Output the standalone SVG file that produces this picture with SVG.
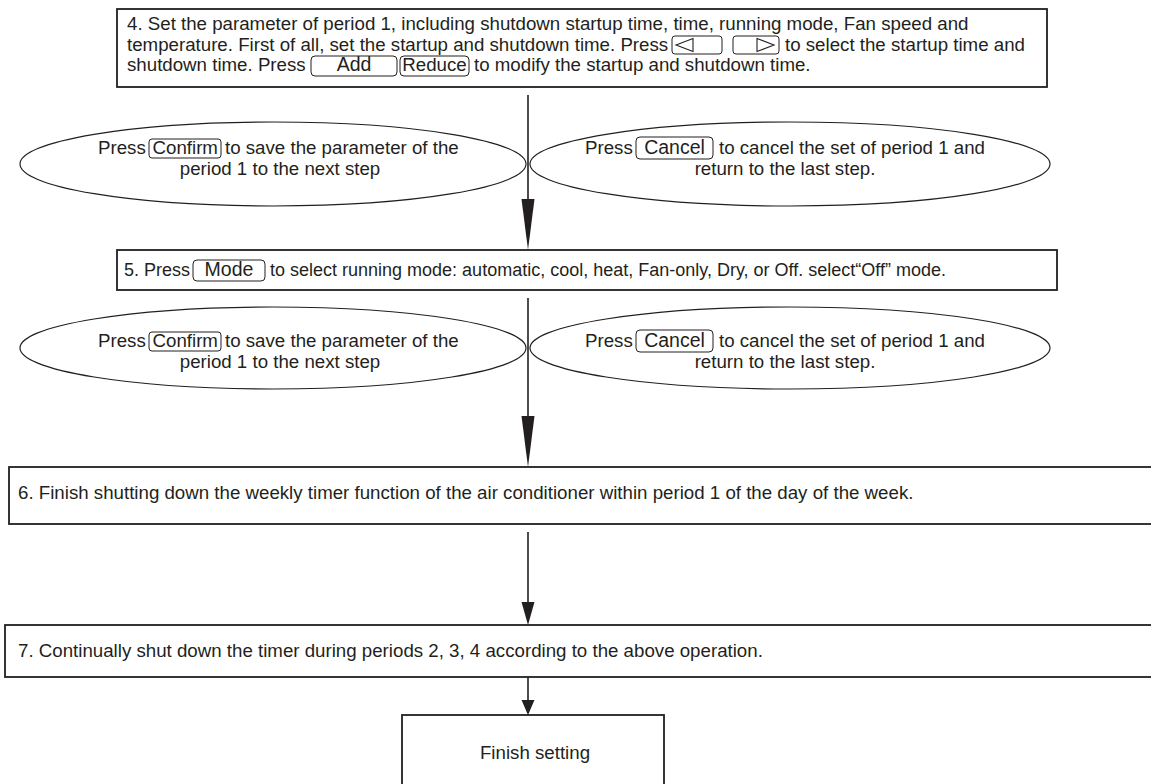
<svg xmlns="http://www.w3.org/2000/svg" width="1151" height="784" viewBox="0 0 1151 784">
<style>
.box{fill:#fff;stroke:#231f20;stroke-width:1.8}
.ell{fill:#fff;stroke:#231f20;stroke-width:1.2}
.btn{fill:none;stroke:#231f20;stroke-width:1}
.t{font-family:"Liberation Sans",Arial,sans-serif;font-size:18.7px;fill:#231f20}
.s{font-size:18px}
.b{font-size:19.5px}
.m{text-anchor:middle}
.ln{stroke:#231f20;stroke-width:1.6;fill:none}
.ah{fill:#231f20;stroke:none}
.tri{fill:none;stroke:#231f20;stroke-width:1.1}
</style>
<rect width="1151" height="784" fill="#fff"/>
<g id="step4">
<rect class="box" x="117" y="9" width="930" height="78"/>
<text class="t" x="127" y="30">4. Set the parameter of period 1, including shutdown startup time, time, running mode, Fan speed and</text>
<text class="t" x="127" y="50.5">temperature. First of all, set the startup and shutdown time. Press</text>
<rect class="btn" x="672" y="36" width="50" height="18" rx="3"/>
<polygon class="tri" points="676,45 693,38.5 693,51.5"/>
<rect class="btn" x="733" y="36" width="46" height="18" rx="3"/>
<polygon class="tri" points="757,38.5 757,51.5 774,45"/>
<text class="t" x="785" y="50.5">to select the startup time and</text>
<text class="t" x="127" y="71">shutdown time. Press</text>
<rect class="btn" x="311" y="56" width="86" height="20" rx="4"/>
<text class="t b m" x="354" y="71">Add</text>
<rect class="btn" x="400" y="56" width="69" height="20" rx="4"/>
<text class="t m" x="434.5" y="71">Reduce</text>
<text class="t" x="474" y="71">to modify the startup and shutdown time.</text>
</g>
<g id="confirm1">
<ellipse class="ell" cx="273" cy="164" rx="253" ry="42"/>
<text class="t" x="98" y="154">Press</text>
<rect class="btn" x="149" y="139" width="72" height="19" rx="3"/>
<text class="t" x="152.5" y="154">Confirm</text>
<text class="t" x="225" y="154">to save the parameter of the</text>
<text class="t m" x="280" y="175">period 1 to the next step</text>
</g>
<g id="cancel1">
<ellipse class="ell" cx="790" cy="164" rx="260" ry="42"/>
<text class="t" x="585" y="154">Press</text>
<rect class="btn" x="636" y="137" width="77" height="22" rx="4"/>
<text class="t b m" x="674.5" y="154">Cancel</text>
<text class="t" x="719" y="154">to cancel the set of period 1 and</text>
<text class="t m" x="785" y="175">return to the last step.</text>
</g>
<g id="step5">
<rect class="box" x="117" y="250" width="940" height="40"/>
<text class="t s" x="124" y="276">5. Press</text>
<rect class="btn" x="193" y="260" width="72" height="21" rx="4"/>
<text class="t b m" x="229" y="276">Mode</text>
<text class="t s" x="270" y="276">to select running mode: automatic, cool, heat, Fan-only, Dry, or Off. select“Off” mode.</text>
</g>
<g id="confirm2">
<ellipse class="ell" cx="273" cy="348" rx="253" ry="41"/>
<text class="t" x="98" y="347">Press</text>
<rect class="btn" x="149" y="332" width="72" height="19" rx="3"/>
<text class="t" x="152.5" y="347">Confirm</text>
<text class="t" x="225" y="347">to save the parameter of the</text>
<text class="t m" x="280" y="368">period 1 to the next step</text>
</g>
<g id="cancel2">
<ellipse class="ell" cx="790" cy="348" rx="260" ry="41"/>
<text class="t" x="585" y="347">Press</text>
<rect class="btn" x="636" y="330" width="77" height="22" rx="4"/>
<text class="t b m" x="674.5" y="347">Cancel</text>
<text class="t" x="719" y="347">to cancel the set of period 1 and</text>
<text class="t m" x="785" y="368">return to the last step.</text>
</g>
<g id="step6">
<rect class="box" x="9" y="467" width="1160" height="57"/>
<text class="t" x="18" y="499">6. Finish shutting down the weekly timer function of the air conditioner within period 1 of the day of the week.</text>
</g>
<g id="step7">
<rect class="box" x="5" y="625" width="1160" height="52"/>
<text class="t" x="18" y="657">7. Continually shut down the timer during periods 2, 3, 4 according to the above operation.</text>
</g>
<g id="finish">
<rect class="box" x="402" y="715" width="262" height="90"/>
<text class="t m" x="535" y="759">Finish setting</text>
</g>
<g id="connectors">
<line class="ln" x1="528" y1="95" x2="528" y2="205"/>
<polygon class="ah" points="521.5,199 534.5,199 528,250"/>
<line class="ln" x1="528" y1="298" x2="528" y2="425"/>
<polygon class="ah" points="521.5,416 534.5,416 528,467"/>
<line class="ln" x1="528" y1="532" x2="528" y2="605"/>
<polygon class="ah" points="521.5,602 534.5,602 528,625"/>
<line class="ln" x1="528" y1="677" x2="528" y2="702"/>
<polygon class="ah" points="521.5,700 534.5,700 528,715"/>
</g>
</svg>
